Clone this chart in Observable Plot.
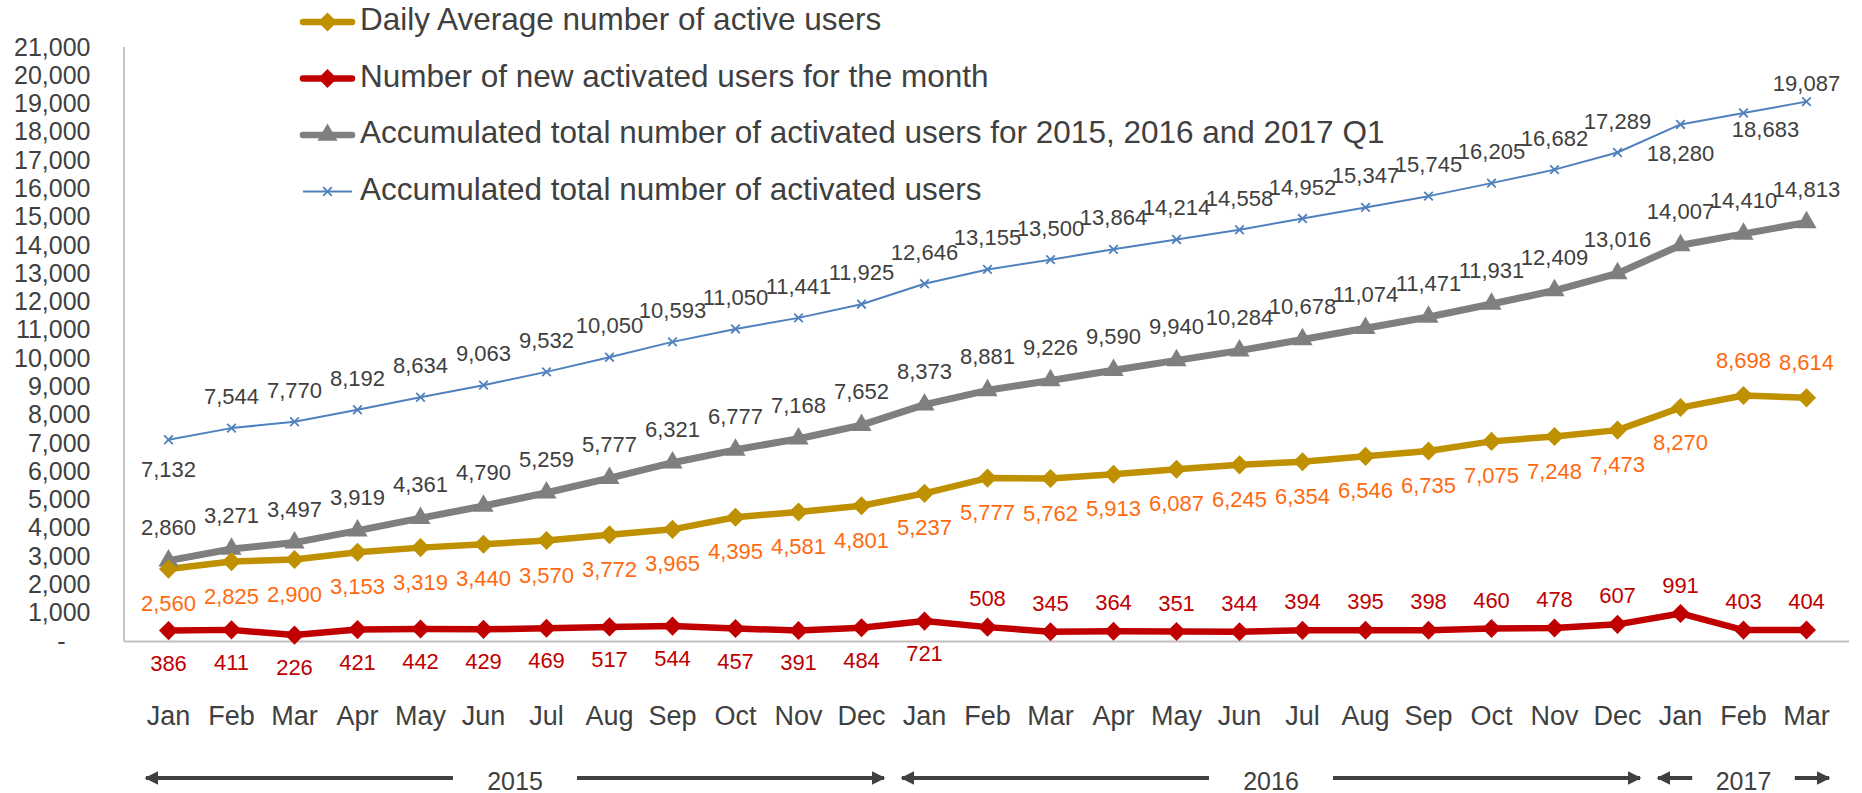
<!DOCTYPE html>
<html>
<head>
<meta charset="utf-8">
<script src="https://cdn.jsdelivr.net/npm/d3@7"></script>
<script src="https://cdn.jsdelivr.net/npm/@observablehq/plot@0.6"></script>
<style>
  body { margin: 0; background: #fff; }
  #chart svg { font-family: "Liberation Sans", Arial, sans-serif; overflow: visible; }
</style>
</head>
<body>
<div id="chart"></div>
<script>
// ---- data ----
const months = ["Jan","Feb","Mar","Apr","May","Jun","Jul","Aug","Sep","Oct","Nov","Dec",
                "Jan","Feb","Mar","Apr","May","Jun","Jul","Aug","Sep","Oct","Nov","Dec",
                "Jan","Feb","Mar"];
const yearLabels = ["2015", "2016", "2017"];
const yearFirstMonth = [0, 12, 24];
const yearLastMonth = [11, 23, 26];

const dailyAverage = [2560,2825,2900,3153,3319,3440,3570,3772,3965,4395,4581,4801,
                      5237,5777,5762,5913,6087,6245,6354,6546,6735,7075,7248,7473,
                      8270,8698,8614];
const newActivated = [386,411,226,421,442,429,469,517,544,457,391,484,
                      721,508,345,364,351,344,394,395,398,460,478,607,
                      991,403,404];
const accumPeriod = [2860,3271,3497,3919,4361,4790,5259,5777,6321,6777,7168,7652,
                     8373,8881,9226,9590,9940,10284,10678,11074,11471,11931,12409,13016,
                     14007,14410,14813];
const accumTotal = [7132,7544,7770,8192,8634,9063,9532,10050,10593,11050,11441,11925,
                    12646,13155,13500,13864,14214,14558,14952,15347,15745,16205,16682,17289,
                    18280,18683,19087];
const yTicks = d3.range(0, 21001, 1000);

const seriesNames = [
  "Daily Average number of active users",
  "Number of new activated users for the month",
  "Accumulated total number of activated users for 2015, 2016 and 2017 Q1",
  "Accumulated total number of activated users"
];

// label placement choices (which points get their label on the other side)
const blueBelow = [0, 24];
const blueRight = [25];
const blueClose = [26];
const goldAbove = [25, 26];
const redAboveFrom = 13;

// ---- styles ----
const GOLD = "#BF9000", RED = "#C00000", GRAY = "#7F7F7F", BLUE = "#4F81BD";
const TXT = "#404040", ORANGE = "#FF6A10";
const fmt = d3.format(",");
const idx = d3.range(months.length);

const lbl = (arr, filter, dy, fill, dx = 0) => Plot.text(idx.filter(filter), {
  x: i => i, y: i => arr[i], text: i => fmt(arr[i]),
  dx, dy, fill, fontSize: 22, lineAnchor: "middle"
});

const chart = Plot.plot({
  width: 1862,
  height: 793,
  marginTop: 47,
  marginBottom: 152,
  marginLeft: 124,
  marginRight: 13,
  style: { color: TXT, fontFamily: "Liberation Sans, Arial, sans-serif", background: "#fff" },
  x: { type: "point", domain: idx, padding: 0.5, axis: null },
  y: { domain: [0, 21000], axis: null },
  marks: [
    Plot.ruleY([0], { stroke: "#BFBFBF", strokeWidth: 2 }),
    Plot.axisY({ ticks: yTicks, tickSize: 0, tickPadding: 34, fontSize: 25, label: null,
                 tickFormat: d => d === 0 ? "-\u2003" : fmt(d) }),
    Plot.axisX({ tickSize: 0, tickPadding: 64, fontSize: 27, label: null,
                 tickFormat: i => months[i] }),
    // lines
    Plot.line(idx, { x: i => i, y: i => accumPeriod[i], stroke: GRAY, strokeWidth: 7 }),
    Plot.line(idx, { x: i => i, y: i => dailyAverage[i], stroke: GOLD, strokeWidth: 6.5 }),
    Plot.line(idx, { x: i => i, y: i => newActivated[i], stroke: RED, strokeWidth: 6.5 }),
    Plot.line(idx, { x: i => i, y: i => accumTotal[i], stroke: BLUE, strokeWidth: 2 }),
    // markers
    Plot.dot(idx, { x: i => i, y: i => accumPeriod[i], symbol: "triangle", r: 7.5, fill: GRAY }),
    Plot.dot(idx, { x: i => i, y: i => dailyAverage[i], symbol: "diamond2", r: 8.6, fill: GOLD }),
    Plot.dot(idx, { x: i => i, y: i => newActivated[i], symbol: "diamond2", r: 8.6, fill: RED }),
    Plot.dot(idx, { x: i => i, y: i => accumTotal[i], symbol: "times", r: 4, stroke: BLUE, strokeWidth: 1.8 }),
    // data labels
    lbl(accumTotal, i => !blueBelow.includes(i) && !blueRight.includes(i) && !blueClose.includes(i), -31, TXT),
    lbl(accumTotal, i => blueBelow.includes(i), 30, TXT),
    lbl(accumTotal, i => blueRight.includes(i), 17, TXT, 22),
    lbl(accumTotal, i => blueClose.includes(i), -18, TXT),
    lbl(accumPeriod, i => true, -33, TXT),
    lbl(dailyAverage, i => !goldAbove.includes(i), 35, ORANGE),
    lbl(dailyAverage, i => goldAbove.includes(i), -35, ORANGE),
    lbl(newActivated, i => i < redAboveFrom, 33, RED),
    lbl(newActivated, i => i >= redAboveFrom, -28, RED)
  ]
});

document.getElementById("chart").appendChild(chart);

// ---- overlays: y-axis line, year arrows, legend ----
const svg = d3.select(chart);
const sx = chart.scale("x"), sy = chart.scale("y");
const [x0, x1] = sx.range;
svg.append("line")
  .attr("x1", x0).attr("x2", x0)
  .attr("y1", sy.apply(21000)).attr("y2", sy.apply(0))
  .attr("stroke", "#A6A6A6").attr("stroke-width", 1.3);

// arrowhead marker
const defs = svg.append("defs");
defs.append("marker").attr("id", "ah").attr("viewBox", "0 0 10 10")
  .attr("refX", 9).attr("refY", 5).attr("markerWidth", 3.6).attr("markerHeight", 4)
  .attr("orient", "auto-start-reverse").attr("markerUnits", "strokeWidth")
  .append("path").attr("d", "M0,0 L10,5 L0,10 Z").attr("fill", TXT);

const yearY = sy.apply(0) + 137;
yearLabels.forEach((lab, k) => {
  const a = sx.apply(yearFirstMonth[k]) - 22;
  const b = sx.apply(yearLastMonth[k]) + 23;
  const c = (a + b) / 2;
  const gap = Math.min(62, (b - a) / 2 * 0.6);
  const g = svg.append("g");
  g.append("line").attr("x1", c - gap).attr("x2", a).attr("y1", yearY).attr("y2", yearY)
    .attr("stroke", TXT).attr("stroke-width", 3.8).attr("marker-end", "url(#ah)");
  g.append("line").attr("x1", c + gap).attr("x2", b).attr("y1", yearY).attr("y2", yearY)
    .attr("stroke", TXT).attr("stroke-width", 3.8).attr("marker-end", "url(#ah)");
  g.append("text").attr("x", c).attr("y", yearY + 5).attr("text-anchor", "middle")
    .attr("dominant-baseline", "middle").attr("font-size", 25).attr("fill", TXT).text(lab);
});

// legend
const legendY = [22, 78.5, 135, 191.5];
const legendColor = [GOLD, RED, GRAY, BLUE];
const legendSym = [d3.symbolDiamond2, d3.symbolDiamond2, d3.symbolTriangle, d3.symbolTimes];
const legendSize = [230, 230, 175, 50];
const lg = svg.append("g").attr("text-anchor", "start");
seriesNames.forEach((name, k) => {
  const y = legendY[k];
  const blue = k === 3;
  lg.append("line").attr("x1", 303).attr("x2", 352).attr("y1", y).attr("y2", y)
    .attr("stroke", legendColor[k]).attr("stroke-width", blue ? 2 : 6.5)
    .attr("stroke-linecap", blue ? "butt" : "round");
  lg.append("path").attr("d", d3.symbol(legendSym[k], legendSize[k])())
    .attr("transform", `translate(327.5,${y})`)
    .attr("fill", blue ? "none" : legendColor[k])
    .attr("stroke", blue ? legendColor[k] : "none").attr("stroke-width", 1.8);
  lg.append("text").attr("x", 360).attr("y", y).attr("dominant-baseline", "middle")
    .attr("text-anchor", "start")
    .attr("font-size", 31.5).attr("fill", TXT).text(name);
});
</script>
</body>
</html>
